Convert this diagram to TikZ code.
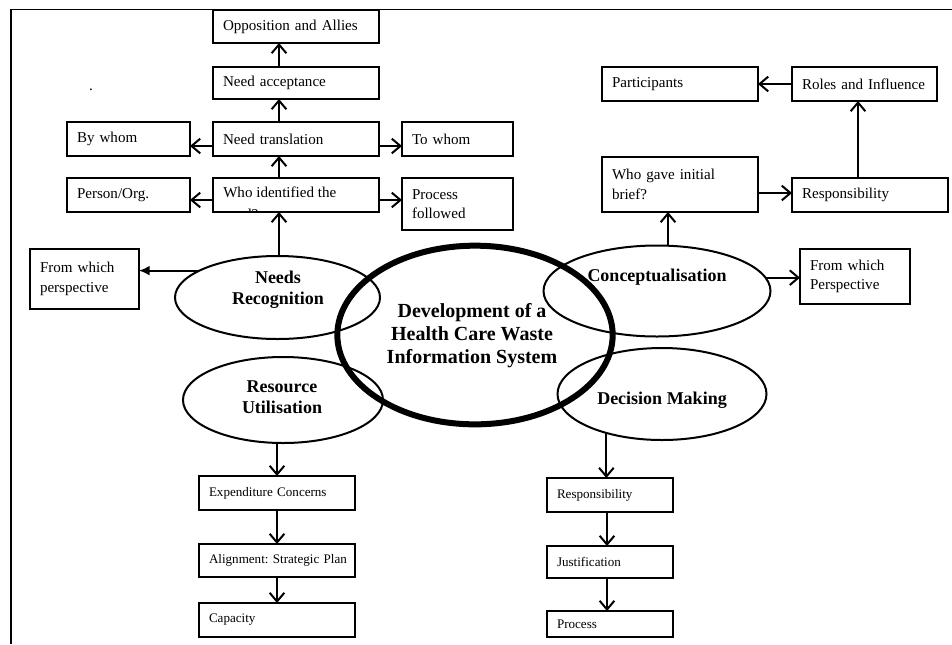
\documentclass[tikz,border=0pt]{standalone}
\usepackage{fontspec}
\setmainfont{Liberation Serif}
\frenchspacing
\usetikzlibrary{arrows.meta,shapes.geometric}
\newcommand\ftop{\fontsize{11.3}{14.6}\selectfont}
\newcommand\fbot{\fontsize{9.8}{13}\selectfont}
\newcommand\mkbox[7]{%
 \pgfmathsetmacro\bxw{(#4-#2)*0.75}%
 \pgfmathsetmacro\bxh{(#5-#3)*0.75}%
 \pgfmathsetmacro\bxt{(#4-#2-20)*0.75}%
 \node[bx,minimum width=\bxw pt,minimum height=\bxh pt,text width=\bxt pt,font=#6] (#1) at ({(#2+#4)/2},{(#3+#5)/2}) {#7};}
\tikzset{
 bx/.style={draw, line width=1.3pt, rectangle, inner xsep=7.5pt, inner ysep=0pt, align=left, outer sep=0pt},
 el/.style={draw, ellipse, line width=1.5pt, inner sep=0pt, outer sep=0pt},
 conn/.style={line width=1.5pt, -{Straight Barb[length=6.5pt,width=11pt]}},
 fconn/.style={line width=1.5pt, -{Latex[length=8pt,width=7.5pt]}},
 bigtxt/.style={font=\fontsize{15}{17.3}\selectfont\bfseries, align=center, inner sep=0pt},
 elab/.style={font=\fontsize{13.5}{15.75}\selectfont\bfseries, align=center, inner sep=0pt},
}
\begin{document}
\begin{tikzpicture}[x=0.75pt,y=-0.75pt]
\useasboundingbox (0,0) rectangle (952,644);
\fill[white] (0,0) rectangle (952,644);
% frame
\draw[line width=1.4pt] (11,644) -- (11,9.5) -- (952,9.5);
\node[font=\ftop, inner sep=0pt, anchor=base] (dot) at (91,90) {.};

% column coordinates
\coordinate (ax) at (279,0);
\coordinate (r1) at (0,146);
\coordinate (r2) at (0,200);
\coordinate (cx) at (668,0);
\coordinate (r3) at (0,193);
\coordinate (rx) at (858,0);
\coordinate (dcol) at (607,0);

% top-left boxes
\mkbox{opp}{213}{10}{379}{43}{\ftop}{Opposition and Allies}
\mkbox{acc}{213}{67}{379}{99}{\ftop}{Need acceptance}
\mkbox{byw}{67}{122}{190}{156}{\ftop}{By whom}
\mkbox{trn}{213}{122}{379}{156}{\ftop}{Need translation}
\mkbox{tow}{402}{122}{513}{156}{\ftop}{To whom}
\mkbox{per}{67}{178}{190}{212}{\ftop}{Person/Org.}
\mkbox{who}{213}{178}{379}{212}{\ftop}{}
\begin{scope}
\clip (who.south west) rectangle (who.north east);
\node[font=\ftop, anchor=north west, align=left, inner sep=0pt] (whot) at (223,187) {Who identified the\\[1.5pt]need?};
\end{scope}
\mkbox{pfo}{402}{178}{513}{230}{\ftop}{Process\\followed}
\mkbox{fwp}{30}{249}{139}{309}{\ftop}{From which\\perspective}

% top-right boxes
\mkbox{par}{602}{67}{758}{101}{\ftop}{Participants}
\mkbox{rol}{792}{67}{937}{101}{\ftop}{Roles and Influence}
\mkbox{gav}{602}{157}{758}{212}{\ftop}{Who gave initial\\brief?}
\mkbox{rs1}{792}{178}{948}{212}{\ftop}{Responsibility}
\mkbox{fwP}{800}{249}{910}{304}{\ftop}{From which\\Perspective}

% bottom boxes
\mkbox{exp}{199}{476}{355}{510}{\fbot}{Expenditure Concerns}
\mkbox{ali}{199}{544}{355}{577}{\fbot}{\mbox{Alignment: Strategic Plan}}
\mkbox{cap}{199}{603}{355}{637}{\fbot}{Capacity}
\mkbox{rs2}{547}{478}{673}{512}{\fbot}{Responsibility}
\mkbox{jus}{547}{546}{673}{578}{\fbot}{Justification}
\mkbox{pro}{547}{611}{673}{637}{\fbot}{Process}

% ellipses
\node[el, minimum width=153.75pt, minimum height=62.25pt] (nr) at (277.5,297.5) {};
\node[el, minimum width=150pt, minimum height=64.5pt] (ru) at (283,400) {};
\node[el, minimum width=170.25pt, minimum height=68.25pt] (co) at (657,291) {};
\node[el, minimum width=156.75pt, minimum height=69pt] (dm) at (662,394) {};
\node[draw, ellipse, line width=4.5pt, inner sep=0pt, minimum width=206.5pt, minimum height=134pt] (big) at (475,335) {};

\node[elab] (nrt) at (278,290) {Needs\\Recognition};
\node[elab] (rut) at (282,397) {Resource\\Utilisation};
\node[elab] (cot) at (657,277) {Conceptualisation};
\node[elab] (dmt) at (662,400) {Decision Making};
\node[bigtxt] (bigt) at (472,336) {Development of a\\Health Care Waste\\Information System};

% connectors, needs recognition branch
\draw[conn] (nr.north -| ax) -- (who.south -| ax);
\draw[conn] (who.north -| ax) -- (trn.south -| ax);
\draw[conn] (trn.north -| ax) -- (acc.south -| ax);
\draw[conn] (acc.north -| ax) -- (opp.south -| ax);
\draw[conn] (trn.west |- r1) -- (byw.east |- r1);
\draw[conn] (trn.east |- r1) -- (tow.west |- r1);
\draw[conn] (who.west |- r2) -- (per.east |- r2);
\draw[conn] (who.east |- r2) -- (pfo.west |- r2);
\draw[fconn] (nr.161) -- (nr.161 -| fwp.east);

% conceptualisation branch
\draw[conn] (co.north -| cx) -- (gav.south -| cx);
\draw[conn] (gav.east |- r3) -- (rs1.west |- r3);
\draw[conn] (rs1.north -| rx) -- (rol.south -| rx);
\draw[conn] (rol.west) -- (par.east);
\draw[conn] (co.7) -- (co.7 -| fwP.west);

% resource utilisation branch
\draw[conn] (ru.south -| exp.north) -- (exp.north);
\draw[conn] (exp.south) -- (ali.north);
\draw[conn] (ali.south) -- (cap.north);

% decision making branch
\draw[conn] (dm.215) -- (dm.215 |- rs2.north);
\draw[conn] (rs2.south -| dcol) -- (jus.north -| dcol);
\draw[conn] (jus.south -| dcol) -- (pro.north -| dcol);
\end{tikzpicture}
\end{document}
